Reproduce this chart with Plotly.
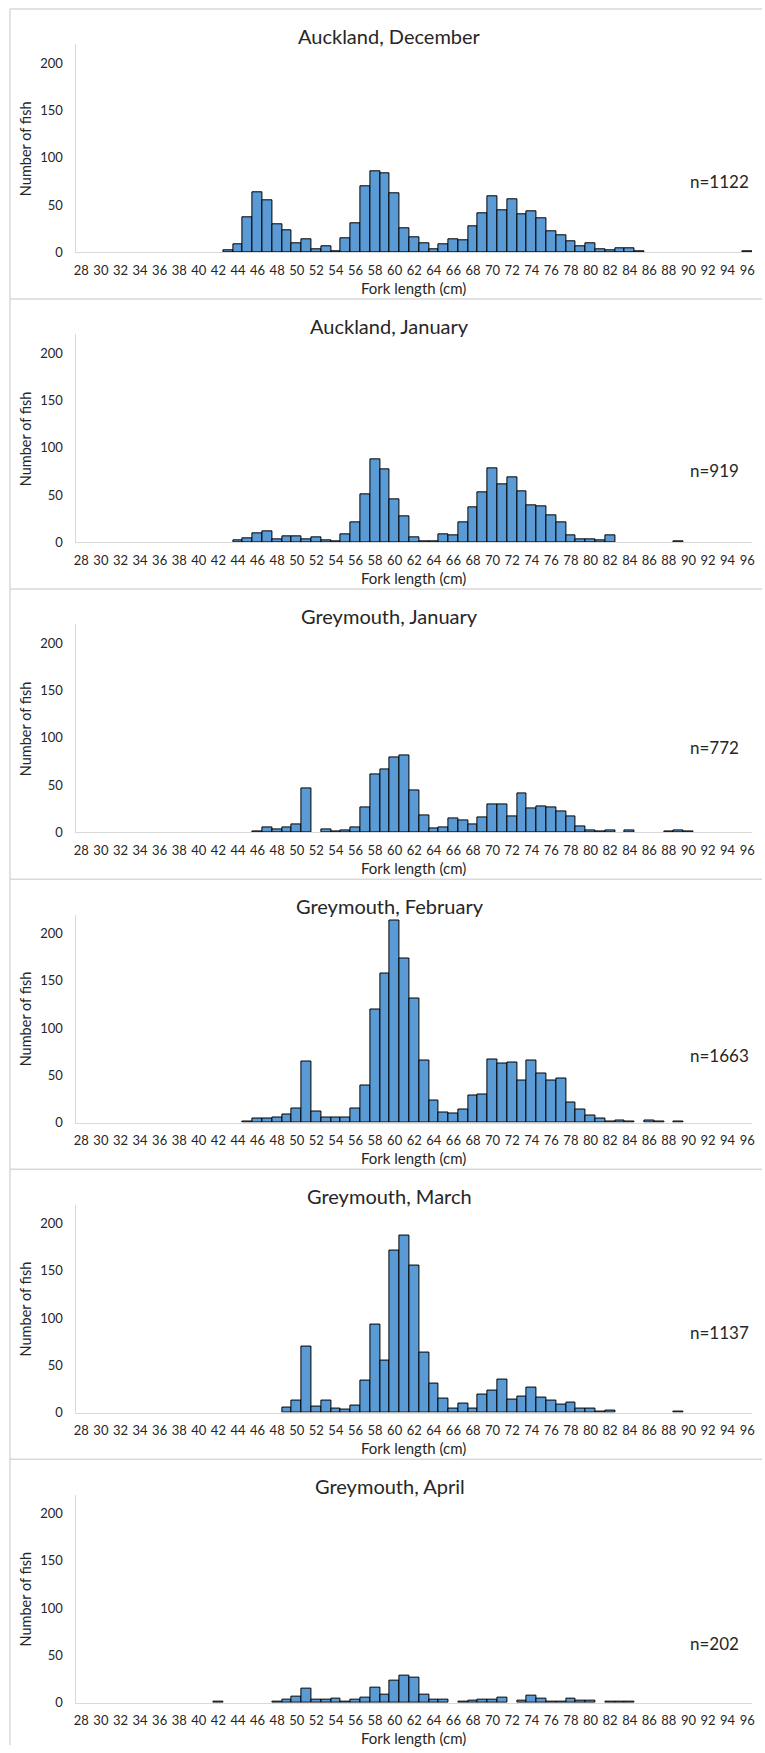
import plotly.graph_objects as go

W, H = 765, 1753

# Fork length categories (cm) and tick labels
lengths = list(range(28, 97))
tick_vals = list(range(28, 97, 2))
tick_text = [str(v) for v in tick_vals]

titles = ["Auckland, December", "Auckland, January", "Greymouth, January",
          "Greymouth, February", "Greymouth, March", "Greymouth, April"]
n_labels = ["n=1122", "n=919", "n=772", "n=1663", "n=1137", "n=202"]

# Number of fish per 1-cm class, 28..96 cm
auckland_dec = [0]*15 + [2, 9, 37, 64, 55, 30, 23, 10, 14, 3, 6, 1, 15, 31, 70, 86, 84, 62, 25, 16,
                         10, 3, 9, 14, 13, 28, 41, 59, 44, 56, 40, 43, 36, 22, 18, 12, 6, 10, 3, 2,
                         4, 4, 1] + [0]*10 + [1]
auckland_jan = [0]*16 + [2, 4, 10, 12, 3, 6, 6, 3, 5, 2, 1, 9, 21, 51, 88, 77, 45, 28, 5, 1,
                         1, 9, 7, 21, 37, 53, 78, 61, 69, 54, 39, 38, 29, 21, 7, 3, 3, 2, 7] \
               + [0]*6 + [1] + [0]*7
greymouth_jan = [0]*18 + [1, 5, 3, 5, 9, 47, 0, 3, 1, 2, 5, 27, 61, 67, 79, 81, 44, 18, 4, 5,
                          15, 13, 8, 16, 30, 30, 17, 41, 25, 28, 26, 22, 17, 6, 2, 1, 2] \
                + [0, 2, 0, 0, 0, 1, 2, 1] + [0]*6
greymouth_feb = [0]*17 + [1, 4, 4, 5, 9, 15, 65, 12, 5, 5, 5, 15, 39, 120, 158, 214, 174, 131, 66, 23,
                          11, 10, 14, 29, 30, 67, 62, 63, 44, 66, 52, 44, 47, 21, 14, 7, 4, 1, 2, 1] \
                + [0, 2, 1, 0, 1] + [0]*7
greymouth_mar = [0]*21 + [5, 13, 70, 6, 13, 4, 3, 7, 34, 93, 55, 171, 187, 155, 63, 31, 15, 4, 10, 4,
                          19, 23, 35, 14, 17, 26, 16, 13, 8, 11, 4, 4, 1, 2] \
                + [0]*6 + [1] + [0]*7
greymouth_apr = [0]*14 + [1] + [0]*5 + [1, 3, 6, 15, 3, 3, 4, 1, 3, 5, 16, 9, 23, 29, 26, 8, 3, 3, 0, 1,
                                        2, 3, 3, 5, 0, 2, 7, 4, 1, 1, 4, 2, 2, 0, 1, 1, 1] + [0]*12

series = [auckland_dec, auckland_jan, greymouth_jan, greymouth_feb, greymouth_mar, greymouth_apr]

y_tick_vals = [0, 50, 100, 150, 200]

# label y offsets inside each panel (px from panel top)
n_offsets = [173, 172, 159, 177, 164, 185]

PITCH = 291.4
TOP0 = 9
PLOT_L, PLOT_R = 74, 755
BAR_COLOR = "#5B9BD5"
LINE_GRAY = "#D9D9D9"
TXT = "#262626"
FONT = "Lato"

fig = go.Figure()
layout = {}
shapes = []
annotations = []

for k, counts in enumerate(series):
    s = TOP0 + PITCH * k
    top = s + 35.5
    bot = s + 244.5
    xa = "x" if k == 0 else f"x{k+1}"
    ya = "y" if k == 0 else f"y{k+1}"
    xname = "xaxis" if k == 0 else f"xaxis{k+1}"
    yname = "yaxis" if k == 0 else f"yaxis{k+1}"

    fig.add_trace(go.Bar(
        x=lengths, y=[v if v else None for v in counts],
        xaxis=xa, yaxis=ya, width=1.0,
        marker=dict(color=BAR_COLOR, line=dict(color="#000000", width=1)),
        showlegend=False, hoverinfo="x+y",
    ))

    layout[xname] = dict(
        domain=[PLOT_L / W, PLOT_R / W], range=[27.5, 96.5], anchor=ya,
        tickmode="array", tickvals=tick_vals, ticktext=tick_text,
        showgrid=False, zeroline=False, showline=True, linecolor=LINE_GRAY, linewidth=1,
        ticks="", ticklabelstandoff=6,
        tickfont=dict(family=FONT, size=13, color=TXT), fixedrange=True,
    )
    layout[yname] = dict(
        domain=[1 - bot / H, 1 - top / H], range=[0, 220], anchor=xa,
        tickmode="array", tickvals=y_tick_vals,
        showgrid=False, zeroline=False, showline=True, linecolor=LINE_GRAY, linewidth=1,
        ticks="", ticklabelstandoff=10,
        tickfont=dict(family=FONT, size=13, color=TXT), fixedrange=True,
    )

    # panel separator (chart border)
    shapes.append(dict(type="line", xref="paper", yref="paper",
                       x0=7 / W, x1=1, y0=1 - s / H, y1=1 - s / H,
                       line=dict(color=LINE_GRAY, width=1.5)))

    annotations.append(dict(text=titles[k], xref="paper", yref="paper",
                            x=390 / W, y=1 - (s + 27) / H, xanchor="center", yanchor="middle",
                            showarrow=False, font=dict(family=FONT, size=20, color=TXT)))
    annotations.append(dict(text="Fork length (cm)", xref="paper", yref="paper",
                            x=414 / W, y=1 - (s + 280) / H, xanchor="center", yanchor="middle",
                            showarrow=False, font=dict(family=FONT, size=15, color=TXT)))
    annotations.append(dict(text="Number of fish", xref="paper", yref="paper",
                            x=23 / W, y=1 - (s + 140) / H, xanchor="center", yanchor="middle",
                            textangle=-90, showarrow=False,
                            font=dict(family=FONT, size=14.5, color=TXT)))
    annotations.append(dict(text=n_labels[k], xref="paper", yref="paper",
                            x=690 / W, y=1 - (s + n_offsets[k]) / H, xanchor="left", yanchor="middle",
                            showarrow=False, font=dict(family=FONT, size=17, color=TXT)))

# left chart border
shapes.append(dict(type="line", xref="paper", yref="paper",
                   x0=7 / W, x1=7 / W, y0=0, y1=1 - TOP0 / H,
                   line=dict(color=LINE_GRAY, width=1.5)))

fig.update_layout(
    width=W, height=H,
    margin=dict(l=0, r=0, t=0, b=0),
    paper_bgcolor="white", plot_bgcolor="white",
    bargap=0, showlegend=False,
    shapes=shapes, annotations=annotations,
    **layout,
)

fig.write_html("out.html", config={"displayModeBar": False})
